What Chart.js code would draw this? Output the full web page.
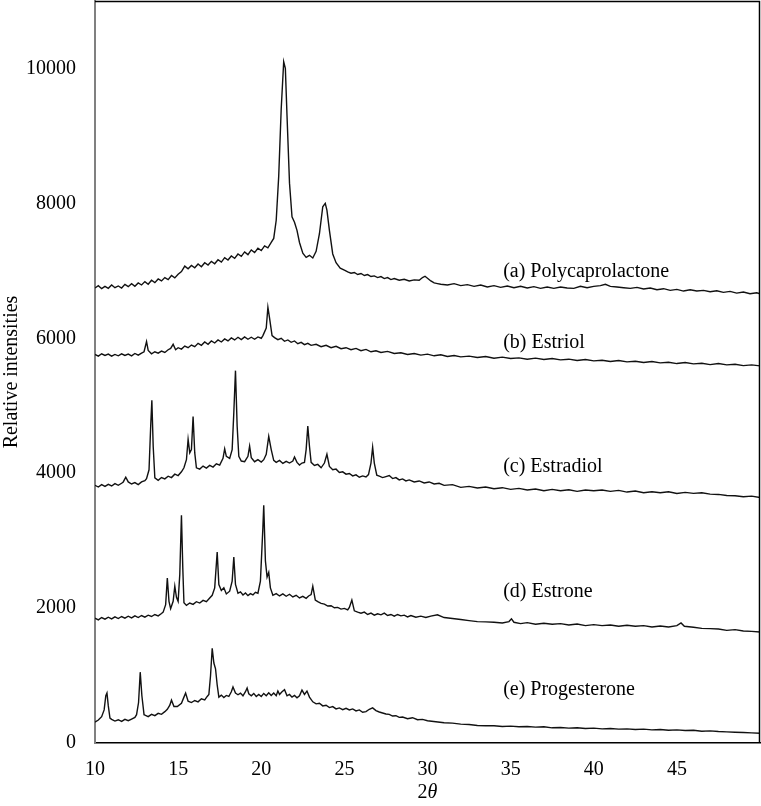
<!DOCTYPE html>
<html>
<head>
<meta charset="utf-8">
<title>XRD patterns</title>
<script src="https://cdn.jsdelivr.net/npm/chart.js@4.4.1/dist/chart.umd.min.js"></script>
<style>
    html, body { margin: 0; padding: 0; background: #fff; }
    #xrdChart { display: block; }
</style>
</head>
<body>
<canvas id="xrdChart" width="761" height="806"></canvas>
<script>
// XRD patterns, [2theta, intensity]

const polycaprolactone = [
    [10.0,6745],[10.2,6780],[10.4,6735],[10.6,6770],[10.8,6740],[11.0,6790],[11.2,6750],[11.4,6775],[11.6,6745],
    [11.8,6800],[12.0,6765],[12.2,6810],[12.4,6770],[12.6,6820],[12.8,6790],[13.0,6840],[13.2,6800],[13.4,6860],
    [13.6,6825],[13.8,6880],[14.0,6850],[14.2,6900],[14.4,6870],[14.6,6930],[14.8,6895],[15.0,6950],[15.2,6990],
    [15.4,7070],[15.6,7030],[15.8,7080],[16.0,7045],[16.2,7100],[16.4,7060],[16.6,7120],[16.8,7085],[17.0,7140],
    [17.2,7105],[17.4,7165],[17.6,7130],[17.8,7195],[18.0,7160],[18.2,7220],[18.4,7185],[18.6,7250],[18.8,7215],
    [19.0,7280],[19.2,7240],[19.4,7310],[19.6,7270],[19.8,7335],[20.0,7300],[20.2,7370],[20.4,7340],[20.6,7420],
    [20.75,7480],[20.9,7750],[21.05,8400],[21.2,9400],[21.35,10100],[21.45,10000],[21.55,9300],[21.7,8300],
    [21.85,7800],[22.0,7720],[22.15,7600],[22.3,7420],[22.5,7260],[22.7,7200],[22.9,7230],[23.1,7190],[23.3,7290],
    [23.5,7550],[23.7,7950],[23.85,8000],[23.95,7900],[24.1,7600],[24.3,7250],[24.5,7120],[24.75,7040],[25.0,7010],
    [25.2,6985],[25.4,6965],[25.6,6975],[25.8,6945],[26.0,6960],[26.2,6930],[26.4,6945],[26.6,6915],[26.8,6925],
    [27.0,6900],[27.2,6915],[27.4,6885],[27.6,6900],[27.8,6870],[28.0,6885],[28.3,6860],[28.6,6875],[28.9,6850],
    [29.2,6865],[29.5,6860],[29.7,6900],[29.85,6920],[30.0,6890],[30.2,6850],[30.4,6820],[30.6,6810],[30.8,6800],
    [31.2,6790],[31.6,6810],[32.0,6780],[32.4,6795],[32.8,6770],[33.2,6790],[33.6,6760],[34.0,6780],[34.4,6755],
    [34.8,6775],[35.2,6750],[35.6,6770],[36.0,6745],[36.4,6765],[36.8,6740],[37.2,6760],[37.6,6740],[38.0,6760],
    [38.4,6745],[38.8,6740],[39.2,6770],[39.6,6750],[40.0,6770],[40.4,6780],[40.7,6800],[41.0,6770],[41.4,6760],
    [41.8,6750],[42.2,6740],[42.6,6755],[43.0,6730],[43.4,6745],[43.8,6720],[44.2,6735],[44.6,6710],[45.0,6725],
    [45.4,6700],[45.8,6720],[46.2,6700],[46.6,6710],[47.0,6690],[47.4,6705],[47.8,6680],[48.2,6695],[48.6,6670],
    [49.0,6685],[49.4,6660],[49.8,6675],[50.0,6660]
];

const estriol = [
    [10.0,5760],[10.2,5735],[10.4,5770],[10.6,5745],[10.8,5765],[11.0,5735],[11.2,5760],[11.4,5740],[11.6,5770],
    [11.8,5745],[12.0,5765],[12.2,5740],[12.4,5775],[12.6,5750],[12.8,5780],[12.95,5800],[13.1,5950],[13.2,5820],
    [13.4,5770],[13.6,5800],[13.8,5780],[14.0,5810],[14.2,5790],[14.4,5830],[14.55,5850],[14.7,5910],[14.85,5830],
    [15.0,5860],[15.2,5840],[15.4,5885],[15.6,5860],[15.8,5900],[16.0,5875],[16.2,5925],[16.4,5895],[16.6,5945],
    [16.8,5910],[17.0,5960],[17.2,5930],[17.4,5975],[17.6,5945],[17.8,5990],[18.0,5960],[18.2,6005],[18.4,5975],
    [18.6,6015],[18.8,5980],[19.0,6020],[19.2,5985],[19.4,6015],[19.6,5985],[19.8,6020],[20.0,6000],[20.1,6040],
    [20.3,6150],[20.4,6460],[20.5,6300],[20.65,6040],[20.8,6010],[21.0,5980],[21.2,6000],[21.4,5955],[21.6,5975],
    [21.8,5940],[22.0,5960],[22.2,5920],[22.4,5940],[22.6,5905],[22.8,5925],[23.0,5895],[23.3,5910],[23.6,5875],
    [23.9,5895],[24.2,5860],[24.5,5880],[24.8,5845],[25.1,5860],[25.4,5830],[25.7,5850],[26.0,5815],[26.3,5835],
    [26.6,5800],[26.9,5815],[27.2,5790],[27.6,5805],[28.0,5775],[28.4,5785],[28.8,5760],[29.2,5775],[29.6,5750],
    [30.0,5765],[30.4,5740],[30.8,5755],[31.2,5730],[31.6,5745],[32.0,5725],[32.5,5735],[33.0,5715],[33.5,5730],
    [34.0,5705],[34.5,5720],[35.0,5700],[35.5,5710],[36.0,5690],[36.5,5705],[37.0,5685],[37.5,5700],[38.0,5680],
    [38.5,5690],[39.0,5670],[39.5,5685],[40.0,5665],[40.5,5675],[41.0,5655],[41.5,5670],[42.0,5650],[42.5,5660],
    [43.0,5640],[43.5,5655],[44.0,5635],[44.5,5645],[45.0,5625],[45.5,5640],[46.0,5620],[46.5,5630],[47.0,5610],
    [47.5,5625],[48.0,5605],[48.5,5615],[49.0,5595],[49.5,5605],[50.0,5590]
];

const estradiol = [
    [10.0,3820],[10.2,3795],[10.4,3830],[10.6,3805],[10.8,3835],[11.0,3810],[11.2,3845],[11.4,3820],[11.6,3850],
    [11.7,3870],[11.85,3940],[12.0,3870],[12.2,3840],[12.4,3860],[12.6,3830],[12.8,3870],[13.0,3890],[13.1,3920],
    [13.25,4050],[13.35,4700],[13.42,5080],[13.5,4400],[13.6,3930],[13.8,3895],[14.0,3935],[14.2,3915],[14.4,3955],
    [14.6,3935],[14.8,3985],[15.0,3965],[15.2,4020],[15.35,4080],[15.5,4200],[15.6,4500],[15.7,4300],[15.8,4350],
    [15.9,4840],[16.0,4300],[16.1,4080],[16.3,4060],[16.5,4105],[16.7,4075],[16.9,4115],[17.1,4090],[17.3,4140],
    [17.5,4120],[17.7,4220],[17.8,4360],[17.9,4250],[18.1,4220],[18.25,4350],[18.35,4900],[18.45,5520],[18.55,4700],
    [18.65,4250],[18.8,4180],[19.0,4170],[19.2,4250],[19.3,4400],[19.4,4230],[19.6,4170],[19.8,4200],[20.0,4165],
    [20.15,4200],[20.3,4280],[20.45,4545],[20.6,4350],[20.75,4190],[20.9,4160],[21.1,4190],[21.3,4145],[21.5,4175],
    [21.7,4150],[21.9,4180],[22.0,4240],[22.15,4160],[22.3,4120],[22.45,4150],[22.6,4160],[22.7,4350],[22.8,4700],
    [22.9,4400],[23.0,4160],[23.2,4115],[23.4,4130],[23.6,4080],[23.8,4150],[23.95,4280],[24.1,4100],[24.3,4050],
    [24.5,4060],[24.7,4010],[24.9,4020],[25.1,3985],[25.3,3995],[25.5,3960],[25.7,3975],[25.9,3940],[26.1,3960],
    [26.3,3945],[26.45,3980],[26.6,4150],[26.7,4385],[26.8,4150],[26.95,3970],[27.1,3955],[27.3,3935],[27.5,3950],
    [27.7,3965],[27.9,3920],[28.1,3935],[28.3,3900],[28.5,3915],[28.7,3885],[28.9,3900],[29.2,3870],[29.5,3885],
    [29.8,3855],[30.1,3870],[30.4,3840],[30.7,3850],[31.0,3820],[31.5,3830],[32.0,3790],[32.5,3805],[33.0,3780],
    [33.5,3795],[34.0,3770],[34.5,3785],[35.0,3760],[35.5,3775],[36.0,3750],[36.5,3765],[37.0,3740],[37.5,3760],
    [38.0,3740],[38.5,3755],[39.0,3730],[39.5,3750],[40.0,3740],[40.5,3750],[41.0,3730],[41.5,3745],[42.0,3720],
    [42.5,3735],[43.0,3710],[43.5,3725],[44.0,3710],[44.5,3725],[45.0,3700],[45.5,3715],[46.0,3700],[46.5,3710],
    [47.0,3690],[47.5,3685],[48.0,3670],[48.5,3665],[49.0,3650],[49.5,3660],[50.0,3640]
];

const estrone = [
    [10.0,1850],[10.2,1825],[10.4,1860],[10.6,1835],[10.8,1865],[11.0,1840],[11.2,1870],[11.4,1845],[11.6,1875],
    [11.8,1850],[12.0,1880],[12.2,1855],[12.4,1885],[12.6,1860],[12.8,1890],[13.0,1865],[13.2,1895],[13.4,1875],
    [13.6,1905],[13.8,1885],[14.0,1920],[14.1,1940],[14.25,2050],[14.35,2445],[14.45,2100],[14.55,1990],[14.7,2100],
    [14.8,2325],[14.9,2160],[15.0,2100],[15.1,2500],[15.2,3375],[15.28,2600],[15.35,2080],[15.5,2040],[15.7,2075],
    [15.9,2055],[16.1,2095],[16.3,2075],[16.5,2115],[16.7,2095],[16.9,2150],[17.05,2190],[17.2,2300],[17.35,2830],
    [17.45,2350],[17.6,2260],[17.75,2300],[17.9,2210],[18.1,2250],[18.25,2400],[18.35,2755],[18.45,2350],[18.6,2220],
    [18.75,2240],[18.9,2195],[19.05,2225],[19.2,2185],[19.35,2215],[19.5,2195],[19.65,2235],[19.8,2220],[19.95,2400],
    [20.1,3200],[20.15,3525],[20.25,2700],[20.35,2460],[20.45,2530],[20.55,2300],[20.7,2190],[20.9,2215],[21.1,2180],
    [21.3,2210],[21.5,2175],[21.7,2205],[21.9,2165],[22.1,2190],[22.3,2150],[22.5,2175],[22.7,2145],[22.85,2180],
    [23.0,2200],[23.1,2325],[23.25,2120],[23.4,2095],[23.6,2070],[23.8,2060],[24.0,2030],[24.2,2035],[24.4,2005],
    [24.6,2010],[24.8,1985],[25.0,1995],[25.2,1975],[25.3,2010],[25.45,2120],[25.6,1960],[25.8,1940],[26.0,1925],
    [26.2,1940],[26.4,1905],[26.6,1925],[26.8,1895],[27.0,1915],[27.2,1900],[27.4,1925],[27.6,1890],[27.8,1905],
    [28.0,1880],[28.2,1905],[28.4,1885],[28.6,1895],[28.8,1870],[29.0,1890],[29.3,1865],[29.6,1880],[29.9,1860],
    [30.2,1880],[30.6,1900],[31.0,1860],[31.5,1845],[32.0,1830],[32.5,1815],[33.0,1800],[33.5,1795],[34.0,1790],
    [34.5,1780],[34.9,1800],[35.05,1840],[35.2,1790],[35.6,1770],[36.0,1785],[36.5,1760],[37.0,1775],[37.5,1760],
    [38.0,1770],[38.5,1750],[39.0,1765],[39.5,1740],[40.0,1755],[40.5,1740],[41.0,1750],[41.5,1730],[42.0,1745],
    [42.5,1730],[43.0,1740],[43.5,1720],[44.0,1735],[44.5,1720],[45.0,1740],[45.25,1780],[45.45,1730],[46.0,1715],
    [46.5,1700],[47.0,1695],[47.5,1690],[48.0,1670],[48.5,1680],[49.0,1660],[49.5,1655],[50.0,1645]
];

const progesterone = [
    [10.0,310],[10.2,340],[10.4,390],[10.55,490],[10.65,700],[10.72,740],[10.8,550],[10.9,370],[11.0,350],
    [11.2,325],[11.4,345],[11.6,320],[11.8,350],[12.0,330],[12.2,355],[12.4,380],[12.5,420],[12.62,600],
    [12.72,1050],[12.82,700],[12.95,420],[13.0,415],[13.2,390],[13.4,425],[13.6,405],[13.8,440],[14.0,425],
    [14.2,465],[14.35,500],[14.5,560],[14.6,635],[14.75,540],[14.95,540],[15.2,590],[15.35,680],[15.45,740],
    [15.6,620],[15.8,600],[16.0,630],[16.2,610],[16.4,655],[16.6,640],[16.75,690],[16.85,720],[16.95,1000],
    [17.05,1405],[17.15,1185],[17.25,1100],[17.35,860],[17.45,680],[17.6,710],[17.75,675],[17.9,705],[18.05,690],
    [18.2,760],[18.3,830],[18.45,740],[18.6,715],[18.75,740],[18.9,700],[19.05,760],[19.15,815],[19.25,730],
    [19.4,700],[19.55,735],[19.7,690],[19.85,720],[20.0,690],[20.15,735],[20.3,700],[20.45,745],[20.6,705],
    [20.75,740],[20.9,700],[21.0,770],[21.1,720],[21.25,760],[21.4,790],[21.55,700],[21.7,720],[21.85,680],
    [22.0,705],[22.15,670],[22.3,700],[22.45,785],[22.6,720],[22.75,770],[22.9,680],[23.1,610],[23.3,580],
    [23.5,590],[23.7,550],[23.9,560],[24.1,525],[24.3,540],[24.5,505],[24.7,520],[24.9,495],[25.1,515],[25.3,490],
    [25.5,505],[25.7,475],[25.9,490],[26.1,455],[26.3,465],[26.5,500],[26.7,520],[26.9,480],[27.1,460],[27.3,445],
    [27.5,430],[27.7,425],[27.9,400],[28.1,405],[28.3,380],[28.5,385],[28.8,360],[29.1,375],[29.4,345],[29.7,350],
    [30.0,330],[30.5,315],[31.0,300],[31.5,295],[32.0,280],[32.5,275],[33.0,260],[33.5,255],[34.0,255],[34.5,245],
    [35.0,250],[35.5,240],[36.0,245],[36.5,235],[37.0,240],[37.5,225],[38.0,230],[38.5,220],[39.0,225],[39.5,215],
    [40.0,220],[40.5,210],[41.0,215],[41.5,205],[42.0,210],[42.5,200],[43.0,205],[43.5,195],[44.0,200],[44.5,190],
    [45.0,195],[45.5,185],[46.0,190],[46.5,175],[47.0,180],[47.5,170],[48.0,165],[48.5,160],[49.0,155],[49.5,150],
    [50.0,145]
];

const seriesNames = ['(a) Polycaprolactone', '(b) Estriol', '(c) Estradiol', '(d) Estrone', '(e) Progesterone'];
const xTicks = [10, 15, 20, 25, 30, 35, 40, 45];
const yTicks = [0, 2000, 4000, 6000, 8000, 10000];

// where each pattern's name sits, in data units
const nameX = 34.55;
const nameY = [6985, 5930, 4095, 2240, 785];

(function() {
    'use strict';

    const FONT = '"Liberation Serif", "Times New Roman", serif';
    const allSeries = [polycaprolactone, estriol, estradiol, estrone, progesterone];

    // Frame, pattern names and the 2θ axis title
    const decorPlugin = {
        id: 'decor',
        afterDraw(chart) {
            const {ctx, chartArea} = chart;
            const xs = chart.scales.x, ys = chart.scales.y;
            ctx.save();
            ctx.strokeStyle = '#000';
            ctx.lineWidth = 1.5;
            ctx.beginPath();
            ctx.moveTo(chartArea.left, chartArea.top + 0.5);
            ctx.lineTo(chartArea.right - 0.5, chartArea.top + 0.5);
            ctx.lineTo(chartArea.right - 0.5, chartArea.bottom);
            ctx.stroke();

            ctx.fillStyle = '#000';
            ctx.font = '20px ' + FONT;
            ctx.textAlign = 'left';
            ctx.textBaseline = 'middle';
            seriesNames.forEach(function(name, i) {
                ctx.fillText(name, xs.getPixelForValue(nameX), ys.getPixelForValue(nameY[i]));
            });

            // "2θ" with italic theta
            const cx = (chartArea.left + chartArea.right) / 2;
            const ty = chartArea.bottom + 50;
            ctx.font = '20px ' + FONT;
            const w2 = ctx.measureText('2').width;
            ctx.font = 'italic 20px ' + FONT;
            const wt = ctx.measureText('θ').width;
            const x0 = cx - (w2 + wt) / 2;
            ctx.font = '20px ' + FONT;
            ctx.fillText('2', x0, ty);
            ctx.font = 'italic 20px ' + FONT;
            ctx.fillText('θ', x0 + w2, ty);
            ctx.restore();
        }
    };

    new Chart(document.getElementById('xrdChart'), {
        type: 'line',
        data: {
            datasets: allSeries.map(function(pts, i) {
                return {
                    label: seriesNames[i],
                    data: pts.map(function(p) { return {x: p[0], y: p[1]}; }),
                    borderColor: '#111',
                    borderWidth: 1.4,
                    pointRadius: 0,
                    tension: 0,
                    fill: false
                };
            })
        },
        options: {
            responsive: false,
            animation: false,
            layout: { padding: { top: 1, right: 1, left: 0, bottom: 0 } },
            plugins: {
                legend: { display: false },
                tooltip: { enabled: false }
            },
            scales: {
                x: {
                    type: 'linear',
                    min: 10,
                    max: 50,
                    afterFit: function(scale) {
                        scale.height = 63;
                        scale.paddingLeft = 0;
                        scale.paddingRight = 0;
                    },
                    afterBuildTicks: function(scale) {
                        scale.ticks = xTicks.map(function(v) { return {value: v}; });
                    },
                    grid: { display: false, drawTicks: false },
                    border: { display: true, color: '#000', width: 1.5 },
                    ticks: {
                        color: '#000',
                        padding: 15,
                        maxRotation: 0,
                        callback: function(v) { return String(v); },
                        font: { family: FONT, size: 20 }
                    }
                },
                y: {
                    type: 'linear',
                    min: 0,
                    max: 11000,
                    afterFit: function(scale) {
                        scale.width = 95;
                        scale.paddingTop = 0;
                        scale.paddingBottom = 0;
                    },
                    afterBuildTicks: function(scale) {
                        scale.ticks = yTicks.map(function(v) { return {value: v}; });
                    },
                    grid: { display: false, drawTicks: false },
                    border: { display: true, color: '#808080', width: 2 },
                    ticks: {
                        color: '#000',
                        padding: 19,
                        callback: function(v) { return String(v); },
                        font: { family: FONT, size: 20 }
                    },
                    title: {
                        display: true,
                        text: 'Relative intensities',
                        color: '#000',
                        padding: 0,
                        font: { family: FONT, size: 20 }
                    }
                }
            }
        },
        plugins: [decorPlugin]
    });
})();
</script>
</body>
</html>
